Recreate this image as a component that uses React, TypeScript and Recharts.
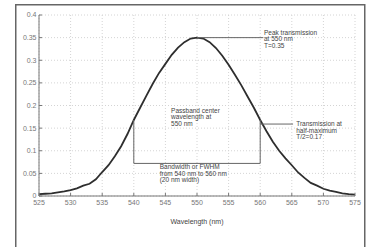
import React from 'react';
import { LineChart, Line, XAxis, YAxis, CartesianGrid, ReferenceLine, ReferenceDot, Customized } from 'recharts';

const wavelengths = [525,526,527,528,529,530,531,532,533,534,535,536,537,538,539,540,541,542,543,544,545,546,547,548,549,550,551,552,553,554,555,556,557,558,559,560,561,562,563,564,565,566,567,568,569,570,571,572,573,574,575];
const transmission = [0.004,0.005,0.006,0.008,0.010,0.013,0.017,0.023,0.027,0.037,0.053,0.068,0.088,0.110,0.137,0.168,0.195,0.222,0.248,0.272,0.292,0.312,0.328,0.340,0.348,0.350,0.348,0.340,0.327,0.310,0.290,0.268,0.245,0.220,0.195,0.168,0.143,0.120,0.100,0.083,0.068,0.052,0.040,0.029,0.023,0.016,0.012,0.009,0.006,0.004,0.003];

const xTicks = [525,530,535,540,545,550,555,560,565,570,575];
const yTicks = [0,0.05,0.1,0.15,0.2,0.25,0.3,0.35,0.4];

const peakLine = [{ x: 550, y: 0.35 }, { x: 560.5, y: 0.35 }];
const halfMaxLine = [{ x: 560, y: 0.159 }, { x: 565.2, y: 0.159 }];
const leftBracket = [{ x: 540, y: 0.168 }, { x: 540, y: 0.072 }];
const rightBracket = [{ x: 560, y: 0.168 }, { x: 560, y: 0.072 }];
const bottomBracket = [{ x: 540, y: 0.072 }, { x: 560, y: 0.072 }];

const peakText = ['Peak transmission', 'at 550 nm', 'T=0.35'];
const halfText = ['Transmission at', 'half-maximum', 'T/2=0.17'];
const centerText = ['Passband center', 'wavelength at', '550 nm'];
const bwText = ['Bandwidth or FWHM', 'from 540 nm to 560 nm', '(20 nm width)'];

const data = wavelengths.map((w, i) => ({ x: w, t: transmission[i] }));

const FONT = 'Liberation Sans, Arial, sans-serif';

const multi = (lines: string[]) => (props: any) => {
  const vb = props.viewBox || {};
  const cx = vb.x + (vb.width || 0) / 2;
  const cy = vb.y + (vb.height || 0) / 2;
  return (
    <text x={cx} y={cy} fontSize={6.5} fill="#444" fontFamily={FONT}>
      {lines.map((l, i) => (
        <tspan key={i} x={cx} dy={i === 0 ? 2.2 : 6.6}>{l}</tspan>
      ))}
    </text>
  );
};

const Frame = () => (
  <rect x={15.75} y={4.75} width={349} height={260} fill="none" stroke="#666" strokeWidth={1.5} />
);

const annStroke = '#666';

export default function App() {
  return (
    <div style={{ position: 'absolute', left: 0, top: 0, width: 372, height: 247, overflow: 'hidden', background: '#fff' }}>
      <LineChart width={372} height={247} data={data} margin={{ top: 15, right: 17, bottom: 31, left: 0 }}>
        <Customized component={Frame} />
        <CartesianGrid stroke="#d4d4d4" strokeDasharray="1 2" vertical horizontal />
        <XAxis dataKey="x" type="number" domain={[525, 575]} ticks={xTicks} height={20}
          tickSize={-3} tickMargin={7} stroke="#777" axisLine={{ stroke: '#777' }}
          tick={{ fontSize: 7, fill: '#777', fontFamily: FONT }} interval={0} allowDataOverflow
          label={{ value: 'Wavelength (nm)', position: 'bottom', offset: 3, fontSize: 7, fill: '#444', fontFamily: FONT }} />
        <XAxis xAxisId="top" orientation="top" dataKey="x" type="number" domain={[525, 575]} ticks={xTicks}
          height={0} tickSize={-3} stroke="#777" tick={() => <g />} interval={0} allowDataOverflow />
        <YAxis type="number" domain={[0, 0.4]} ticks={yTicks} width={39} tickSize={-3} tickMargin={5.5}
          stroke="#777" tick={{ fontSize: 7, fill: '#777', fontFamily: FONT }} interval={0} allowDataOverflow />
        <YAxis yAxisId="r" orientation="right" type="number" domain={[0, 0.4]} ticks={yTicks} width={0}
          tickSize={-3} stroke="#777" tick={() => <g />} interval={0} allowDataOverflow />
        <Line dataKey="t" stroke="#2e2e2e" strokeWidth={1.8} dot={false} isAnimationActive={false} />
        <ReferenceLine segment={peakLine} stroke={annStroke} strokeWidth={1} ifOverflow="visible" />
        <ReferenceLine segment={halfMaxLine} stroke={annStroke} strokeWidth={1} ifOverflow="visible" />
        <ReferenceLine segment={leftBracket} stroke={annStroke} strokeWidth={1} ifOverflow="visible" />
        <ReferenceLine segment={rightBracket} stroke={annStroke} strokeWidth={1} ifOverflow="visible" />
        <ReferenceLine segment={bottomBracket} stroke={annStroke} strokeWidth={1} ifOverflow="visible" />
        <ReferenceDot x={560.6} y={0.361} r={0} fill="none" stroke="none" ifOverflow="visible" label={multi(peakText)} />
        <ReferenceDot x={565.7} y={0.159} r={0} fill="none" stroke="none" ifOverflow="visible" label={multi(halfText)} />
        <ReferenceDot x={545.9} y={0.189} r={0} fill="none" stroke="none" ifOverflow="visible" label={multi(centerText)} />
        <ReferenceDot x={544.1} y={0.064} r={0} fill="none" stroke="none" ifOverflow="visible" label={multi(bwText)} />
      </LineChart>
    </div>
  );
}
